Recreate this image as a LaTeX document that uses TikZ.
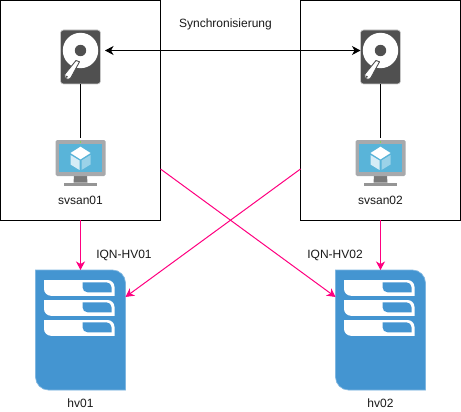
\documentclass[tikz,border=0pt]{standalone}
\usepackage{fontspec}
\setmainfont{Liberation Sans}
\usetikzlibrary{arrows.meta}
\definecolor{pinkline}{HTML}{FF0080}
\definecolor{srvblue}{HTML}{4495D1}
\definecolor{srvedge}{HTML}{7FB6E0}
\definecolor{diskgray}{HTML}{505050}
\definecolor{diskedge}{HTML}{C8C8C8}
\definecolor{framegray}{HTML}{A7A9AC}
\definecolor{standgray}{HTML}{7A7A7A}
\definecolor{screenblue}{HTML}{59B4D9}
\newcommand{\leafpath}[5]{%
  (#1,#2) -- ({#3-#5},#2) .. controls ({#3-.45*#5},#2) and (#3,{#2+.45*#5}) .. (#3,{#2+#5})
  -- (#3,#4) -- ({#1+#5},#4) .. controls ({#1+.45*#5},#4) and (#1,{#4-.45*#5}) .. (#1,{#4-#5}) -- cycle}
\tikzset{
  x=1pt,y=-1pt,
  box/.style={draw=black,line width=1pt,fill=white,inner sep=0pt,outer sep=0pt,minimum width=160pt,minimum height=219.5pt},
  slot/.style={inner sep=0pt,outer sep=0pt},
  label/.style={inner sep=0pt,font=\fontsize{12}{14}\selectfont,text=black!90},
  blackline/.style={draw=black,line width=1pt},
  syncline/.style={blackline,{Stealth[length=8.5pt,width=9pt,inset=2.5pt]}-{Stealth[length=8.5pt,width=9pt,inset=2.5pt]}},
  pinkarrow/.style={draw=pinkline,line width=1pt,-{Stealth[length=8.5pt,width=9pt,inset=2.5pt]}},
  pics/diskicon/.style={code={
    \fill[diskgray,draw=diskedge,line width=.6pt,rounded corners=3pt] (-20,-27) rectangle (20,27);
    \fill[white] (0,-6.5) circle[radius=17.7pt];
    \fill[diskgray] (0,-6.5) circle[radius=5.7pt];
    \fill[white,draw=diskgray,line width=.9pt,line join=round] (-4.5,3.5) -- (-1,4.8) -- (-9.5,20.5) .. controls (-11,24) and (-17.5,22.5) .. (-15.5,17) -- cycle;
    \fill[diskgray] (-13.8,19.8) circle[radius=1.1pt];
  }},
  pics/vmicon/.style={code={
    \fill[standgray] (-6.5,36) -- (6.5,36) -- (7,42.7) -- (-7,42.7) -- cycle;
    \fill[standgray!80] (-16.7,42.7) rectangle (16.7,45.7);
    \fill[framegray,rounded corners=1.5pt] (-25,0) rectangle (25,36);
    \fill[screenblue] (-21.3,3.7) rectangle (21.3,31.7);
    \fill[white] (0,6.7) -- (10,13) -- (0,19.3) -- (-10,13) -- cycle;
    \fill[white!75!screenblue] (-10,15) -- (-1,20.5) -- (-1,30) -- (-10,24.5) -- cycle;
    \fill[white!40!screenblue] (10,15) -- (1,20.5) -- (1,30) -- (10,24.5) -- cycle;
    \fill[green!60!yellow] (0,2) circle[radius=.7pt];
  }},
  pics/servericon/.style={code={
    \fill[srvblue,draw=srvedge,line width=.7pt] \leafpath{-45}{0}{45}{120}{13};
    \foreach \t in {10,30,50}{
      \fill[white] \leafpath{-36.5}{\t}{34}{\t+15.8}{7};
      \fill[srvblue] \leafpath{2}{\t+2.3}{31}{\t+12.3}{5};
    }
  }},
}
\begin{document}
\begin{tikzpicture}
\useasboundingbox (0,0) rectangle (461,412);
\fill[white] (0,0) rectangle (461,412);
\node[box] (box1) at (80.5,110.25) {};
\node[box] (box2) at (380.5,110.25) {};
\node[slot,minimum width=40pt,minimum height=54pt] (disk1) at (80.5,57) {};
\node[slot,minimum width=40pt,minimum height=54pt] (disk2) at (380.5,57) {};
\node[slot,minimum width=50pt,minimum height=48pt] (vm1) at (80.5,162) {};
\node[slot,minimum width=50pt,minimum height=48pt] (vm2) at (380.5,162) {};
\node[slot,minimum width=90pt,minimum height=120pt] (srv1) at (80.5,330) {};
\node[slot,minimum width=90pt,minimum height=120pt] (srv2) at (380.5,330) {};
\pic at (disk1.center) {diskicon};
\pic at (disk2.center) {diskicon};
\pic at ([yshift=-2pt]vm1.north) {vmicon};
\pic at ([yshift=-2pt]vm2.north) {vmicon};
\pic at (srv1.north) {servericon};
\pic at (srv2.north) {servericon};
\node[label] (svsan1) at (80.5,200.5) {svsan01};
\node[label] (svsan2) at (380.5,200.5) {svsan02};
\node[label] (hv1) at (80.5,403.5) {hv01};
\node[label] (hv2) at (380.5,403.5) {hv02};
\node[label] (iqn1) at (124,255.5) {IQN-HV01};
\node[label] (iqn2) at (335,255.5) {IQN-HV02};
\node[label] (sync) at (225.5,24.5) {Synchronisierung};
\draw[syncline] ([xshift=4.5pt,yshift=6.5pt]disk1.east) -- ([yshift=6.5pt]disk2.west);
\draw[blackline] (disk1.south) -- (vm1.north);
\draw[blackline] (disk2.south) -- (vm2.north);
\draw[pinkarrow] (box1.south) -- (srv1.north);
\draw[pinkarrow] (box2.south) -- (srv2.north);
\coordinate (c1) at (160.5,169);
\coordinate (c2) at (300.5,169);
\draw[pinkarrow] (c1) -- ([yshift=-27pt]srv2.north west);
\draw[pinkarrow] (c2) -- ([yshift=-27pt]srv1.north east);
\end{tikzpicture}
\end{document}
